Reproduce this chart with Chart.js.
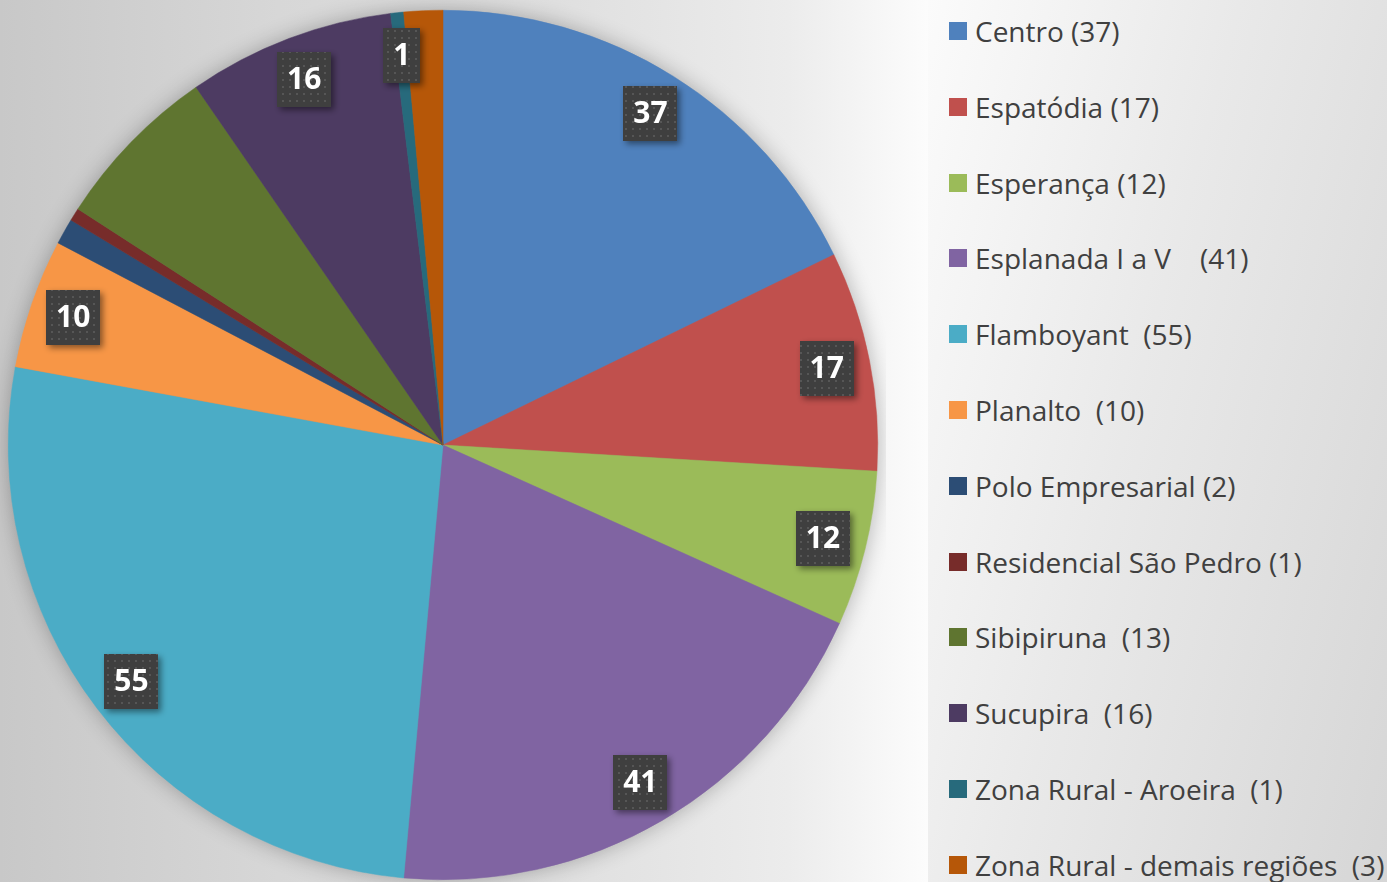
<!DOCTYPE html>
<html>
<head>
<meta charset="utf-8">
<script src="https://cdn.jsdelivr.net/npm/chart.js@4"></script>
<style>
html, body { margin: 0; padding: 0; width: 1387px; height: 882px; overflow: hidden; }
body { position: relative; font-family: "Open Sans", sans-serif; }
#plotBg {
    position: absolute; left: 0; top: 0; width: 928px; height: 882px;
    background: linear-gradient(to right, #c8c8c8 0%, #d7d7d7 30%, #dfdfdf 60%, #ececec 85%, #fcfcfc 100%);
}
#legendBg {
    position: absolute; left: 928px; top: 0; width: 459px; height: 882px;
    background: linear-gradient(105deg, #fbfbfb 0%, #e9e9e9 45%, #d6d6d6 100%);
}
#chartWrap { position: absolute; left: 0; top: 0; width: 886px; height: 882px; }
#legend { position: absolute; left: 949px; top: 0; }
.item {
    position: absolute; left: 0; height: 40px; display: flex; align-items: center;
    white-space: pre; color: #404040; font-size: 28px;
}
.swatch { width: 18px; height: 18px; margin-right: 8px; flex: none; }
</style>
</head>
<body>
<div id="plotBg"></div>
<div id="legendBg"></div>
<div id="chartWrap"><canvas id="pieChart" width="886" height="882"></canvas></div>
<div id="legend"></div>
<script>
// Data
const regions = ['Centro (37)', 'Espatódia (17)', 'Esperança (12)', 'Esplanada I a V    (41)',
    'Flamboyant  (55)', 'Planalto  (10)', 'Polo Empresarial (2)', 'Residencial São Pedro (1)',
    'Sibipiruna  (13)', 'Sucupira  (16)', 'Zona Rural - Aroeira  (1)', 'Zona Rural - demais regiões  (3)'];
const counts = [37, 17, 12, 41, 55, 10, 2, 1, 13, 16, 1, 3];
const showValue = [true, true, true, true, true, true, false, false, false, true, true, false];
const sliceColors = ['#4F81BD', '#C0504D', '#9BBB59', '#8064A2', '#4BACC6', '#F79646',
    '#2C4D75', '#772C2A', '#5F7530', '#4D3B62', '#276A7C', '#B65708'];

// dotted pattern for the value boxes
const tile = document.createElement('canvas');
tile.width = 7; tile.height = 7;
const tctx = tile.getContext('2d');
tctx.fillStyle = '#3f3f3f';
tctx.fillRect(0, 0, 7, 7);
tctx.fillStyle = '#565656';
tctx.fillRect(2, 2, 2, 2);

const sliceLabels = {
    id: 'sliceLabels',
    beforeDatasetsDraw(chart) {
        // soft shadow around the pie
        const arc = chart.getDatasetMeta(0).data[0];
        const ctx = chart.ctx;
        ctx.save();
        ctx.shadowColor = 'rgba(0,0,0,0.3)';
        ctx.shadowBlur = 22;
        ctx.fillStyle = '#888';
        ctx.beginPath();
        ctx.arc(arc.x, arc.y, arc.outerRadius - 1, 0, Math.PI * 2);
        ctx.fill();
        ctx.restore();
    },
    afterDatasetsDraw(chart) {
        const ctx = chart.ctx;
        const meta = chart.getDatasetMeta(0);
        const pattern = ctx.createPattern(tile, 'repeat');
        ctx.save();
        ctx.font = 'bold 30px "Open Sans"';
        ctx.textAlign = 'center';
        ctx.textBaseline = 'middle';
        meta.data.forEach((arc, i) => {
            if (!showValue[i]) return;
            const mid = (arc.startAngle + arc.endAngle) / 2;
            const r = arc.outerRadius * 0.9;
            const x = arc.x + Math.cos(mid) * r;
            const y = arc.y + Math.sin(mid) * r;
            const text = String(counts[i]);
            const w = ctx.measureText(text).width + 20;
            const h = 55;
            ctx.save();
            ctx.shadowColor = 'rgba(0,0,0,0.45)';
            ctx.shadowBlur = 6;
            ctx.shadowOffsetX = 3;
            ctx.shadowOffsetY = 3;
            ctx.fillStyle = pattern;
            ctx.fillRect(Math.round(x - w / 2), Math.round(y - h / 2), Math.round(w), h);
            ctx.restore();
            ctx.fillStyle = '#ffffff';
            ctx.fillText(text, x, y + 1);
        });
        ctx.restore();
    }
};

const ctxPie = document.getElementById('pieChart').getContext('2d');
const pieChart = new Chart(ctxPie, {
    type: 'pie',
    data: {
        labels: regions,
        datasets: [{
            data: counts,
            backgroundColor: sliceColors,
            borderColor: sliceColors,
            borderWidth: 0.5
        }]
    },
    options: {
        responsive: false,
        animation: false,
        layout: { padding: { top: 10, bottom: 2, left: 8, right: 8 } },
        plugins: {
            legend: { display: false },
            tooltip: { enabled: false }
        }
    },
    plugins: [sliceLabels]
});

// Legend built from the chart's own legend items
const legendBox = document.getElementById('legend');
const items = Chart.overrides.pie.plugins.legend.labels.generateLabels(pieChart);
items.forEach((item, i) => {
    const row = document.createElement('div');
    row.className = 'item';
    row.style.top = (32 + i * 75.8 - 21) + 'px';
    const sw = document.createElement('span');
    sw.className = 'swatch';
    sw.style.background = item.fillStyle;
    const txt = document.createElement('span');
    txt.textContent = item.text;
    row.appendChild(sw);
    row.appendChild(txt);
    legendBox.appendChild(row);
});
</script>
</body>
</html>
